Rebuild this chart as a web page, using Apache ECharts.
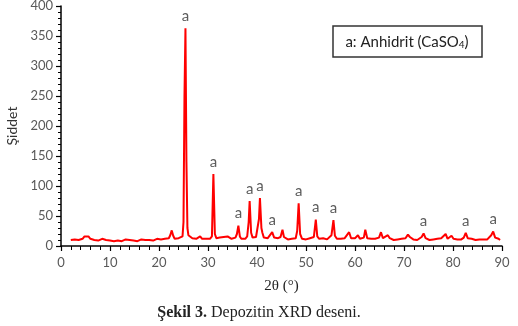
<!DOCTYPE html>
<html>
<head>
<meta charset="utf-8">
<script src="https://cdn.jsdelivr.net/npm/echarts@6/dist/echarts.min.js"></script>
<style>
  html, body { margin: 0; padding: 0; background: #fff; }
  #chart { width: 518px; height: 326px; }
</style>
</head>
<body>
<div id="chart"></div>
<script>
  // XRD deseni: 2θ (°) ve şiddet değerleri
  var twoTheta = [
    2.0, 2.4, 2.8, 3.2, 3.6, 4.0, 4.4, 4.8, 5.2, 5.6, 6.0, 6.4, 6.8, 7.2, 7.6, 8.0, 8.4, 8.8, 9.2, 9.6,
    10.0, 10.4, 10.8, 11.2, 11.6, 12.0, 12.4, 12.8, 13.2, 13.6, 14.0, 14.4, 14.8, 15.2, 15.6, 16.0, 16.4, 16.8, 17.2, 17.6,
    18.0, 18.4, 18.8, 19.2, 19.6, 20.0, 20.4, 20.8, 21.2, 21.6, 22.0, 22.3, 22.6, 22.9, 23.2, 23.6, 24.0, 24.4, 24.8, 25.0,
    25.2, 25.4, 25.6, 25.8, 26.0, 26.4, 26.8, 27.2, 27.6, 28.0, 28.4, 28.8, 29.2, 29.6, 30.0, 30.4, 30.8, 31.1, 31.4, 31.7,
    32.0, 32.4, 32.8, 33.2, 33.6, 34.0, 34.4, 34.8, 35.2, 35.6, 35.9, 36.2, 36.5, 36.8, 37.2, 37.6, 38.0, 38.3, 38.5, 38.8,
    39.1, 39.4, 39.8, 40.2, 40.4, 40.6, 40.9, 41.1, 41.4, 41.8, 42.2, 42.6, 43.1, 43.5, 43.9, 44.3, 44.8, 45.2, 45.5, 45.9,
    46.3, 46.7, 47.1, 47.5, 47.9, 48.2, 48.5, 48.8, 49.2, 49.6, 50.0, 50.4, 50.8, 51.2, 51.6, 52.0, 52.3, 52.7, 53.1, 53.5,
    53.9, 54.3, 54.7, 55.2, 55.6, 55.9, 56.3, 56.7, 57.1, 57.5, 57.9, 58.3, 58.8, 59.2, 59.6, 60.0, 60.6, 61.0, 61.4, 61.8,
    62.1, 62.5, 62.9, 63.3, 63.7, 64.1, 64.5, 64.9, 65.3, 65.7, 66.1, 66.7, 67.1, 67.5, 67.9, 68.3, 68.7, 69.1, 69.5, 69.9,
    70.3, 70.8, 71.2, 71.5, 71.9, 72.3, 72.7, 73.1, 73.6, 74.0, 74.4, 74.8, 75.2, 75.6, 76.0, 76.4, 76.8, 77.2, 77.6, 78.0,
    78.5, 78.9, 79.3, 79.7, 80.1, 80.5, 80.9, 81.3, 81.7, 82.2, 82.6, 83.0, 83.4, 83.8, 84.2, 84.6, 85.0, 85.4, 85.8, 86.2,
    86.6, 87.0, 87.4, 87.8, 88.2, 88.6, 89.0, 89.3, 89.6
  ];
  var intensity = [
    10, 8, 11, 9, 10, 8, 12, 16, 18, 16, 12, 9, 10, 8, 9, 10, 12, 13, 10, 8,
    9, 10, 8, 11, 9, 10, 8, 9, 11, 9, 10, 8, 9, 10, 8, 9, 11, 9, 10, 8,
    10, 11, 9, 10, 12, 9, 11, 10, 12, 10, 13, 18, 26, 17, 12, 11, 13, 12, 16, 40,
    250, 363, 140, 30, 18, 15, 13, 14, 12, 13, 16, 12, 11, 12, 13, 12, 16, 120, 20, 13,
    12, 14, 12, 15, 13, 16, 13, 12, 13, 14, 20, 34, 16, 12, 13, 12, 16, 40, 75, 22,
    14, 13, 15, 18, 45, 80, 30, 22, 14, 12, 13, 15, 23, 14, 12, 13, 15, 27, 15, 12,
    11, 13, 12, 14, 13, 25, 71, 20, 12, 13, 11, 12, 13, 12, 15, 44, 16, 12, 11, 13,
    12, 11, 13, 18, 43, 17, 12, 11, 12, 11, 13, 12, 23, 13, 12, 13, 18, 12, 11, 14,
    27, 13, 11, 12, 10, 12, 11, 14, 23, 13, 12, 18, 13, 11, 10, 12, 11, 10, 12, 11,
    13, 19, 15, 12, 11, 12, 10, 12, 15, 21, 13, 11, 10, 12, 11, 10, 12, 11, 13, 14,
    20, 12, 11, 17, 12, 10, 11, 12, 11, 14, 22, 13, 11, 12, 11, 10, 12, 11, 10, 11,
    12, 11, 13, 18, 24, 14, 11, 12, 10
  ];

  // "a" ile işaretlenen anhidrit pikleri
  var peakAngle = [25.4, 31.1, 36.2, 38.5, 40.6, 43.1, 48.5, 52.0, 55.6, 74.0, 82.6, 88.2];
  var peakHeight = [363, 120, 34, 75, 80, 23, 71, 44, 43, 21, 22, 24];

  var xTicks = [0, 10, 20, 30, 40, 50, 60, 70, 80, 90];
  var yTicks = [0, 50, 100, 150, 200, 250, 300, 350, 400];

  var lineData = twoTheta.map(function (t, i) { return [t, intensity[i]]; });
  var peakData = peakAngle.map(function (t, i) { return [t, peakHeight[i]]; });

  var chart = echarts.init(document.getElementById('chart'), null, { renderer: 'canvas' });

  var axisFont = { color: '#595959', fontSize: 13, fontFamily: 'Lato' };

  var option = {
    animation: false,
    backgroundColor: '#fff',
    title: {
      text: '{b|Şekil 3.} Depozitin XRD deseni.',
      left: 'center',
      top: 300,
      textStyle: {
        fontFamily: 'Liberation Serif',
        fontSize: 16,
        fontWeight: 'normal',
        color: '#222',
        rich: {
          b: { fontFamily: 'Liberation Serif', fontSize: 16, fontWeight: 'bold', color: '#222' }
        }
      }
    },
    grid: { left: 61, right: 16, top: 6, bottom: 80, outerBoundsMode: 'none', containLabel: false },
    xAxis: {
      type: 'value',
      min: xTicks[0],
      max: xTicks[xTicks.length - 1],
      interval: 10,
      name: '2θ (°)',
      nameLocation: 'middle',
      nameGap: 33,
      nameTextStyle: { fontFamily: 'Liberation Serif', fontSize: 15, color: '#222' },
      axisLine: { lineStyle: { color: '#000', width: 1.5 } },
      axisTick: { show: true, inside: false, length: 5, lineStyle: { color: '#000', width: 1.2 } },
      minorTick: { show: true, splitNumber: 5, length: 4, lineStyle: { color: '#000', width: 1 } },
      axisLabel: Object.assign({ margin: 10 }, axisFont),
      splitLine: { show: false }
    },
    yAxis: {
      type: 'value',
      min: yTicks[0],
      max: yTicks[yTicks.length - 1],
      interval: 50,
      name: 'Şiddet',
      nameLocation: 'middle',
      nameGap: 42,
      nameTextStyle: { fontFamily: 'Lato', fontSize: 14, color: '#333' },
      axisLine: { show: true, lineStyle: { color: '#000', width: 1.5 } },
      axisTick: { show: true, inside: false, length: 5, lineStyle: { color: '#000', width: 1.2 } },
      minorTick: { show: true, splitNumber: 5, length: 3, lineStyle: { color: '#000', width: 1 } },
      axisLabel: Object.assign({ margin: 8 }, axisFont),
      splitLine: { show: false }
    },
    graphic: [
      {
        type: 'rect',
        shape: { x: 333, y: 26, width: 149, height: 31 },
        style: { fill: '#fff', stroke: '#333', lineWidth: 1.5 }
      },
      {
        type: 'text',
        x: 407,
        y: 42,
        style: {
          text: '{a|a: Anhidrit (CaSO}{s|4}{a|)}',
          align: 'center',
          verticalAlign: 'middle',
          rich: {
            a: { fontFamily: 'Lato', fontSize: 15, fill: '#222' },
            s: { fontFamily: 'Lato', fontSize: 10, fill: '#222', padding: [6, 0, 0, 0] }
          }
        }
      }
    ],
    series: [
      {
        type: 'line',
        data: lineData,
        showSymbol: false,
        symbol: 'none',
        lineStyle: { color: '#ff0000', width: 2 },
        z: 2
      },
      {
        type: 'scatter',
        data: peakData,
        symbolSize: 1,
        itemStyle: { color: 'rgba(0,0,0,0)' },
        label: {
          show: true,
          position: 'top',
          distance: 4,
          formatter: 'a',
          fontFamily: 'Lato',
          fontSize: 15,
          color: '#333'
        },
        z: 3
      }
    ]
  };

  chart.setOption(option);
</script>
</body>
</html>
